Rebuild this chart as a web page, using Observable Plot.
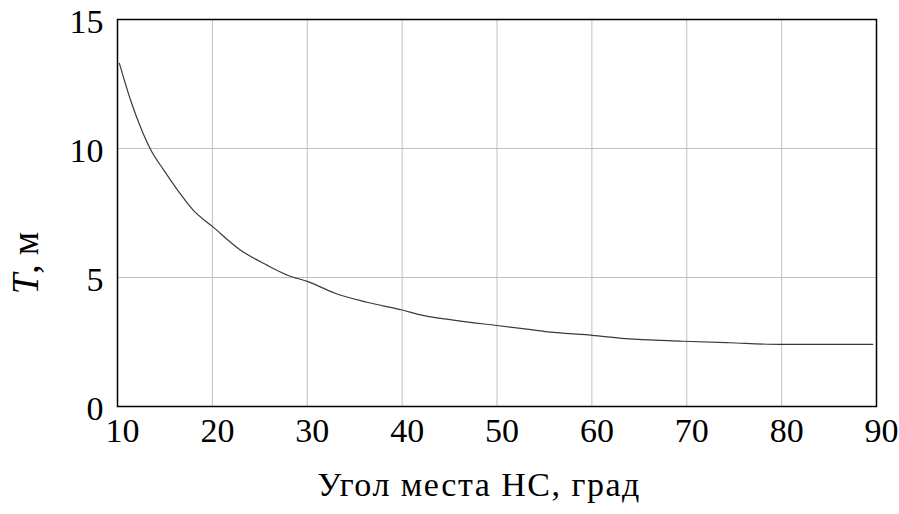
<!DOCTYPE html>
<html><head><meta charset="utf-8">
<script src="https://cdn.jsdelivr.net/npm/d3@7"></script>
<script src="https://cdn.jsdelivr.net/npm/@observablehq/plot@0.6"></script>
<style>body{margin:0;background:#fff}</style>
</head><body><div id="chart"></div>
<script>
// Elevation angle of the navigation satellite, degrees
const angles = [10.2, 11.4, 12.4, 13.5, 14.9, 16.6, 18.0, 20.0, 22.9, 25.8, 28.0, 30.0, 33.0, 36.3, 40.0, 42.2, 45.8, 50.0, 53.8, 56.3, 60.0, 63.5, 69.6, 74.5, 79.8, 89.6];
// T, metres
const tValues = [13.3, 11.85, 10.85, 9.95, 9.15, 8.25, 7.6, 6.98, 6.08, 5.47, 5.08, 4.85, 4.38, 4.04, 3.74, 3.53, 3.33, 3.14, 2.97, 2.86, 2.76, 2.63, 2.53, 2.47, 2.41, 2.41];
const xTicks = [10, 20, 30, 40, 50, 60, 70, 80, 90];
const yTicks = [0, 5, 10, 15];
const xLabel = "Угол места НС, град";
const yLabelVar = "T";
const yLabelUnit = ", м";

const data = angles.map((a, i) => ({a, t: tValues[i]}));

const chart = Plot.plot({
  width: 899, height: 514,
  marginTop: 19, marginLeft: 117, marginRight: 23, marginBottom: 108,
  style: {fontFamily: "'Liberation Serif', 'Times New Roman', serif", fontSize: "34px", background: "#fff", color: "#000"},
  x: {domain: [10, 90], label: null},
  y: {domain: [0, 15], label: null},
  marks: [
    Plot.gridX(xTicks, {stroke: "#c0c0c0", strokeOpacity: 1, strokeWidth: 1}),
    Plot.gridY(yTicks, {stroke: "#c0c0c0", strokeOpacity: 1, strokeWidth: 1}),
    Plot.axisX(xTicks, {tickSize: 0, tickPadding: 11, dx: 5, label: null, fontSize: 34}),
    Plot.axisY(yTicks, {tickSize: 0, tickPadding: 14, dy: 3, label: null, fontSize: 34}),
    Plot.line(data, {x: "a", y: "t", stroke: "#3a3a3a", strokeWidth: 1.2, curve: "monotone-x"}),
    Plot.frame({stroke: "#000", strokeWidth: 1.5}),
    Plot.text([xLabel], {frameAnchor: "bottom", text: d => d, textAnchor: "middle", dx: -18, dy: 89, fontSize: 34}),
    Plot.text([yLabelVar + yLabelUnit], {frameAnchor: "left", text: d => d, textAnchor: "middle", rotate: -90, dx: -91, dy: 50, fontSize: 37})
  ]
});

d3.select(chart).selectAll("text").filter(function() { return this.textContent === xLabel; })
  .style("letter-spacing", "1.5px");

d3.select(chart).selectAll("text").filter(function() { return this.textContent === yLabelVar + yLabelUnit; })
  .each(function() {
    const t = d3.select(this);
    t.text(null);
    t.append("tspan").attr("font-style", "italic").text(yLabelVar);
    t.append("tspan").text(yLabelUnit);
  });

document.getElementById("chart").append(chart);
</script>
</body></html>
